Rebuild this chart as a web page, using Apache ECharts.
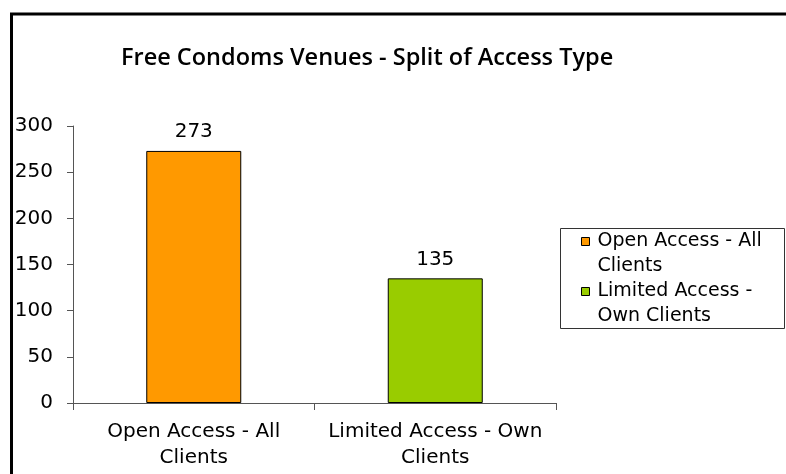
<!DOCTYPE html>
<html>
<head>
<meta charset="utf-8">
<title>Free Condoms Venues</title>
<script src="https://cdn.jsdelivr.net/npm/echarts@6/dist/echarts.min.js"></script>
<style>
    html, body { margin: 0; padding: 0; background: #fff; }
    #main { width: 786px; height: 474px; }
</style>
</head>
<body>
<div id="main"></div>
<script>
// data
var categories = ['Open Access - All Clients', 'Limited Access - Own Clients'];
var values = [273, 135];
var xLabels = ['Open Access - All\nClients', 'Limited Access - Own\nClients'];
var legendLabels = ['Open Access - All\nClients', 'Limited Access -\nOwn Clients'];
var barColors = ['#FF9900', '#99CC00'];
var yTicks = [0, 50, 100, 150, 200, 250, 300];

var chart = echarts.init(document.getElementById('main'));

// one series per category so the legend gets both, bars overlap on their own slot
var series = [];
for (var i = 0; i < categories.length; i++) {
    var d = [];
    for (var j = 0; j < values.length; j++) {
        d.push(i === j ? values[j] : '-');
    }
    series.push({
        name: categories[i],
        type: 'bar',
        data: d,
        barWidth: 95,
        barGap: '-100%',
        itemStyle: {
            color: barColors[i],
            borderColor: '#000',
            borderWidth: 1
        },
        label: {
            show: true,
            position: 'top',
            distance: 9,
            fontFamily: 'DejaVu Sans',
            fontSize: 20,
            color: '#000'
        }
    });
}

var option = {
    animation: false,
    backgroundColor: '#fff',
    title: {
        text: 'Free Condoms Venues - Split of Access Type',
        left: 121,
        top: 44,
        padding: 0,
        textStyle: {
            fontFamily: 'Open Sans',
            fontWeight: 600,
            fontSize: 23.5,
            lineHeight: 28,
            color: '#000'
        }
    },
    legend: {
        orient: 'vertical',
        left: 581,
        top: 204,
        padding: 0,
        itemGap: -25,
        itemWidth: 8,
        itemHeight: 8,
        icon: 'rect',
        selectedMode: false,
        itemStyle: { borderColor: '#000', borderWidth: 1 },
        data: categories,
        formatter: function (name) {
            // empty first line so the square sits level with the first text line
            return '\n' + legendLabels[categories.indexOf(name)];
        },
        textStyle: {
            fontFamily: 'DejaVu Sans',
            fontSize: 19,
            lineHeight: 25,
            color: '#000',
            padding: [0, 0, 0, 3]
        }
    },
    grid: {
        left: 73,
        right: 230,
        top: 126,
        bottom: 71,
        containLabel: false
    },
    xAxis: {
        type: 'category',
        data: categories,
        axisLine: { lineStyle: { color: '#555', width: 1 } },
        axisTick: { show: true, alignWithLabel: false, length: 7, lineStyle: { color: '#555' } },
        axisLabel: {
            interval: 0,
            margin: 16,
            fontFamily: 'DejaVu Sans',
            fontSize: 20,
            lineHeight: 26,
            color: '#000',
            formatter: function (v, idx) { return xLabels[idx]; }
        }
    },
    yAxis: {
        type: 'value',
        min: yTicks[0],
        max: yTicks[yTicks.length - 1],
        interval: yTicks[1] - yTicks[0],
        splitLine: { show: false },
        axisLine: { show: true, lineStyle: { color: '#555', width: 1 } },
        axisTick: { show: true, length: 6, lineStyle: { color: '#555' } },
        axisLabel: {
            margin: 20,
            fontFamily: 'DejaVu Sans',
            fontSize: 20,
            color: '#000'
        }
    },
    graphic: [
        {
            // outer frame, cut off at right and bottom
            type: 'rect',
            shape: { x: 11.5, y: 14, width: 900, height: 600 },
            style: { fill: 'none', stroke: '#000', lineWidth: 3 },
            silent: true
        },
        {
            // legend box
            type: 'rect',
            shape: { x: 560.5, y: 228.5, width: 224, height: 100 },
            style: { fill: 'none', stroke: '#333', lineWidth: 1 },
            silent: true
        }
    ],
    series: series
};

chart.setOption(option);
</script>
</body>
</html>
